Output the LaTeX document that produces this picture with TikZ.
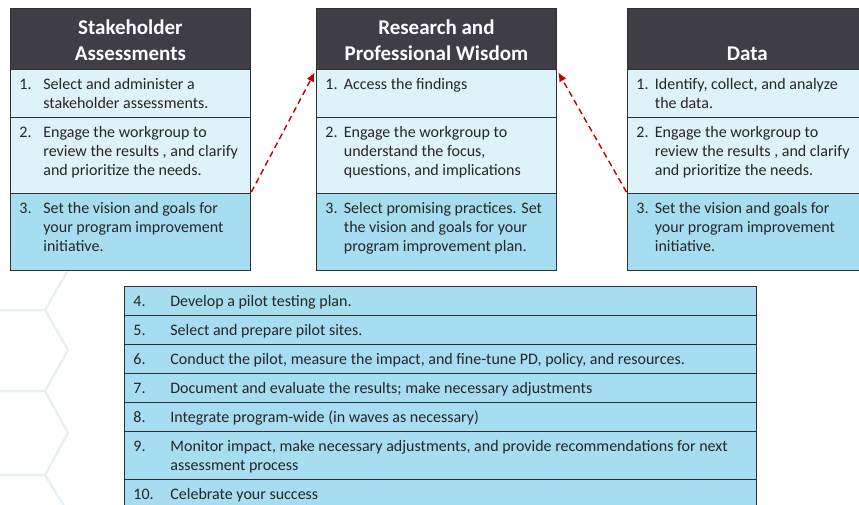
\documentclass[tikz,border=0pt]{standalone}
\usepackage{fontspec}
\setmainfont{Carlito}
\usetikzlibrary{arrows.meta}
\definecolor{headgray}{RGB}{63,62,68}
\definecolor{edgegray}{RGB}{45,48,52}
\definecolor{lightblue}{RGB}{222,242,250}
\definecolor{midblue}{RGB}{167,221,240}
\definecolor{textgray}{RGB}{38,38,38}
\definecolor{linkred}{RGB}{192,0,0}
\definecolor{hexgray}{RGB}{233,240,245}
\newcommand{\headtext}[1]{\parbox[c][61pt][b]{240pt}{\centering #1\par\vspace*{9pt}}}
\newcommand{\steptext}[5]{\parbox[c][#2pt][t]{#1pt}{\rule{0pt}{20pt}\hspace*{9pt}\makebox[#3pt][l]{#4}\parbox[t]{\dimexpr#1pt-#3pt-12pt\relax}{\raggedright #5}}}

\begin{document}
\begin{tikzpicture}[x=1pt,y=-1pt]
\tikzset{head/.style = {draw=edgegray, line width=0.8pt, fill=headgray, text=white, inner sep=0pt, anchor=north west, font=\bfseries\fontsize{21}{26}\selectfont}}
\tikzset{light/.style = {draw=edgegray, line width=0.8pt, fill=lightblue, text=textgray, inner sep=0pt, anchor=north west, font=\fontsize{16}{19}\selectfont}}
\tikzset{deep/.style = {light, fill=midblue}}
\tikzset{link/.style = {->, > = {Latex[length=9pt,width=8pt]}, dash pattern=on 6pt off 4pt, linkred, line width=1.4pt, shorten >=3pt, shorten <=1pt}}
\tikzset{hex/.style = {hexgray, line width=2.5pt}}
\clip (0,0) rectangle (859,504);
\draw[hex] (0,310) -- (45,310) -- (68,350) -- (45,391) -- (0,391);
\draw[hex] (45,391) -- (68,433) -- (45,475) -- (0,475);
\draw[hex] (45,310) -- (68,270);
\draw[hex] (45,475) -- (64,506);
\node[head](stake) at (10,8) {\headtext{Stakeholder\\Assessments}};
\node[light](stakeA) at (10,69) {\steptext{240}{48}{24}{1.}{Select and administer a\\stakeholder assessments.}};
\node[light](stakeB) at (10,117) {\steptext{240}{76}{24}{2.}{Engage the workgroup to\\review the results , and clarify\\and prioritize the needs.}};
\node[deep](stakeC) at (10,193) {\steptext{240}{77}{24}{3.}{Set the vision and goals for\\your program improvement\\initiative.}};
\node[head](research) at (316,8) {\headtext{Research and\\Professional Wisdom}};
\node[light](researchA) at (316,69) {\steptext{240}{48}{18.5}{1.}{Access the findings}};
\node[light](researchB) at (316,117) {\steptext{240}{76}{18.5}{2.}{Engage the workgroup to\\understand the focus,\\questions, and implications}};
\node[deep](researchC) at (316,193) {\steptext{240}{77}{18.5}{3.}{Select promising practices. Set\\the vision and goals for your\\program improvement plan.}};
\node[head](data) at (627,8) {\headtext{Data}};
\node[light](dataA) at (627,69) {\steptext{240}{48}{18.5}{1.}{Identify, collect, and analyze\\the data.}};
\node[light](dataB) at (627,117) {\steptext{240}{76}{18.5}{2.}{Engage the workgroup to\\review the results , and clarify\\and prioritize the needs.}};
\node[deep](dataC) at (627,193) {\steptext{240}{77}{18.5}{3.}{Set the vision and goals for\\your program improvement\\initiative.}};
\node[deep](step4) at (124,286) {\steptext{632}{29}{37}{4.}{Develop a pilot testing plan.}};
\node[deep](step5) at (124,315) {\steptext{632}{29}{37}{5.}{Select and prepare pilot sites.}};
\node[deep](step6) at (124,344) {\steptext{632}{29}{37}{6.}{Conduct the pilot, measure the impact, and fine-tune PD, policy, and resources.}};
\node[deep](step7) at (124,373) {\steptext{632}{29}{37}{7.}{Document and evaluate the results; make necessary adjustments}};
\node[deep](step8) at (124,402) {\steptext{632}{29}{37}{8.}{Integrate program-wide (in waves as necessary)}};
\node[deep](step9) at (124,431) {\steptext{632}{48}{37}{9.}{Monitor impact, make necessary adjustments, and provide recommendations for next\\assessment process}};
\node[deep](step10) at (124,479) {\steptext{632}{29}{37}{10.}{Celebrate your success}};
\draw[link] (stakeC.north east) -- (research.south west);
\draw[link] (dataC.north west) -- (research.south east);
\end{tikzpicture}
\end{document}
